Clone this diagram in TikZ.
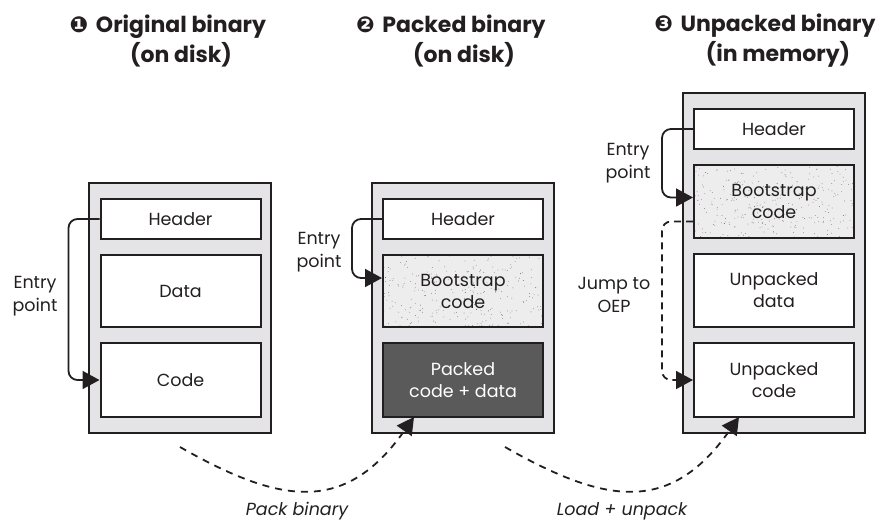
\documentclass[tikz,border=0pt]{standalone}
\usepackage{fontspec}
\setmainfont{Poppins}
\newfontfamily\dingfont{DejaVu Sans}
\usetikzlibrary{arrows.meta,calc}

\definecolor{ink}{HTML}{231F20}
\definecolor{panelgray}{HTML}{E4E4E6}
\definecolor{packedgray}{HTML}{5A5A5A}
\definecolor{speckgray}{HTML}{EDEDED}

\begin{document}
\begin{tikzpicture}[x=1pt,y=-1pt,
    panel/.style={draw=ink, line width=2pt, fill=panelgray, minimum width=182pt},
    part/.style={draw=ink, line width=2pt, fill=white, minimum width=160pt,
        align=center, text=ink, font=\fontsize{17.5}{22}\selectfont},
    speckled/.style={fill=speckgray, path picture={
        \foreach \i in {1,...,280}{
            \pgfmathsetmacro\sx{rnd}
            \pgfmathsetmacro\sy{rnd}
            \fill[black!60] let \p1=(path picture bounding box.south west),
                \p2=(path picture bounding box.north east) in
                ({\x1+\sx*(\x2-\x1)},{\y1+\sy*(\y2-\y1)}) circle (0.4pt);
        }}},
    title/.style={align=center, text=ink, font=\bfseries\fontsize{22}{30}\selectfont},
    note/.style={align=center, text=ink, font=\fontsize{17.5}{23}\selectfont},
    entry/.style={draw=ink, line width=1.8pt, rounded corners=9pt,
        -{Triangle[length=17pt,width=18pt]}},
    jump/.style={entry, dash pattern=on 7pt off 5pt},
    flow/.style={draw=ink, line width=1.8pt, dash pattern=on 7pt off 6pt,
        -{Triangle[length=17pt,width=18pt]}}]

    \useasboundingbox (0,0) rectangle (882,523);
    \pgfmathsetseed{11}

    % Titles
    \node[title] (t1) at (181,41) {\llap{\dingfont ❶\ }Original binary\\(on disk)};
    \node[title] (t2) at (464,41) {\llap{\dingfont ❷\ }Packed binary\\(on disk)};
    \node[title] (t3) at (778,41) {\llap{\dingfont ❸\ }Unpacked binary\\(in memory)};

    % Original binary
    \node[panel, minimum height=250pt] (disk1) at (180,308) {};
    \node[part, minimum height=40pt] (hdr1) at (180.5,219) {Header};
    \node[part, minimum height=72pt] (data1) at (180.5,291) {Data};
    \node[part, minimum height=74pt] (code1) at (180.5,380) {Code};

    % Packed binary
    \node[panel, minimum height=250pt] (disk2) at (463,308) {};
    \node[part, minimum height=40pt] (hdr2) at (463,219) {Header};
    \node[part, speckled, minimum height=72pt] (boot2) at (463,291) {Bootstrap\\code};
    \node[part, fill=packedgray, text=white, minimum height=74pt] (packed2) at (463,380) {Packed\\code + data};

    % Unpacked binary
    \node[panel, minimum height=340pt] (mem3) at (773.5,263) {};
    \node[part, minimum height=40pt] (hdr3) at (774,129) {Header};
    \node[part, speckled, minimum height=73pt] (boot3) at (774,201.5) {Bootstrap\\code};
    \node[part, minimum height=73pt] (data3) at (774,290.5) {Unpacked\\data};
    \node[part, minimum height=74pt] (code3) at (774,380) {Unpacked\\code};

    % Entry points
    \draw[entry] (hdr1.west) -- ++(-31,0) |- (code1.west);
    \draw[entry] (hdr2.west) -- ++(-30,0) |- ([yshift=13pt]boot2.west);
    \draw[entry] (hdr3.west) -- ++(-31,0) |- ([yshift=4pt]boot3.west);
    \draw[jump] ([yshift=-20pt]boot3.west) -- ++(-31,0) |- (code3.west);

    \node[note] (ep1) at (35,296) {Entry\\point};
    \node[note] (ep2) at (319,252) {Entry\\point};
    \node[note] (ep3) at (628,163) {Entry\\point};
    \node[note] (oep) at (614,295) {Jump to\\OEP};

    % Steps between the binaries
    \coordinate (pk0) at (180,447);
    \coordinate (pk1) at (414,417);
    \coordinate (ld0) at (505,447);
    \coordinate (ld1) at (739,417);
    \draw[flow] (pk0) .. controls (280,504) and (345,515) .. (pk1);
    \draw[flow] (ld0) .. controls (605,504) and (670,515) .. (ld1);
    \node[note, font=\itshape\fontsize{17.5}{22}\selectfont] (pack) at (297,511) {Pack binary};
    \node[note, font=\itshape\fontsize{17.5}{22}\selectfont] (load) at (622,511) {Load + unpack};

\end{tikzpicture}
\end{document}
